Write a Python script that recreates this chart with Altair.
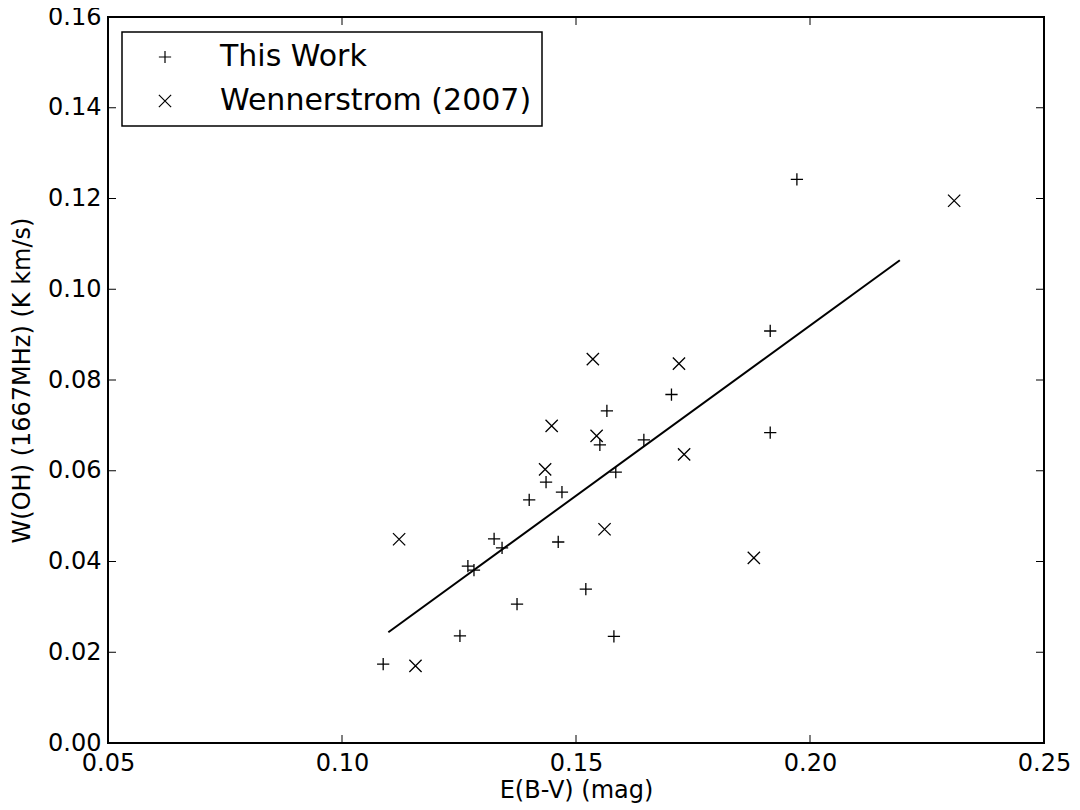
import altair as alt
import pandas as pd

# ---- data ----
this_x = [0.1088, 0.1252, 0.1269, 0.1282, 0.1325, 0.1342, 0.1374, 0.1400, 0.1436, 0.1470, 0.1462,
          0.1521, 0.1551, 0.1566, 0.1585, 0.1581, 0.1645, 0.1704, 0.1915, 0.1915, 0.1972]
this_y = [0.0174, 0.0236, 0.0390, 0.0381, 0.0450, 0.0430, 0.0306, 0.0536, 0.0575, 0.0553, 0.0443,
          0.0339, 0.0657, 0.0732, 0.0597, 0.0235, 0.0668, 0.0768, 0.0908, 0.0684, 0.1242]
wenn_x = [0.1157, 0.1122, 0.1448, 0.1434, 0.1536, 0.1544, 0.1561, 0.1720, 0.1731, 0.1880, 0.2308]
wenn_y = [0.0170, 0.0449, 0.0699, 0.0603, 0.0846, 0.0677, 0.0471, 0.0836, 0.0636, 0.0408, 0.1195]
fit_x = [0.1099, 0.2192]
fit_y = [0.0244, 0.1064]
series_names = ["This Work", "Wennerstrom (2007)"]
x_ticks = [0.05, 0.10, 0.15, 0.20, 0.25]
y_ticks = [0.00, 0.02, 0.04, 0.06, 0.08, 0.10, 0.12, 0.14, 0.16]

PLUS = "M-1,0L1,0M0,-1L0,1"
CROSS = "M-1,-1L1,1M-1,1L1,-1"
FONT = "DejaVu Sans"
W, H = 936, 726

pts = pd.DataFrame({
    "x": this_x + wenn_x,
    "y": this_y + wenn_y,
    "series": [series_names[0]] * len(this_x) + [series_names[1]] * len(wenn_x),
})
fit = pd.DataFrame({"x": fit_x, "y": fit_y})
xt = pd.DataFrame({"v": x_ticks})
yt = pd.DataFrame({"v": y_ticks})

xscale = alt.Scale(domain=[0.05, 0.25], nice=False, zero=False)
yscale = alt.Scale(domain=[0.0, 0.16], nice=False, zero=False)

xaxis = alt.Axis(values=x_ticks, format=".2f", title="E(B-V) (mag)", grid=False, ticks=False,
                 tickSize=0, domain=False, labelFlush=False, labelOverlap=False, labelPadding=8,
                 titlePadding=3)
yaxis = alt.Axis(values=y_ticks, format=".2f", title="W(OH) (1667MHz) (K km/s)", grid=False,
                 ticks=False, tickSize=0, domain=False, labelFlush=False, labelOverlap=False,
                 labelPadding=7, titlePadding=13)

points = alt.Chart(pts).mark_point(filled=False, color="black", strokeWidth=1.3, size=150,
                                   opacity=1).encode(
    x=alt.X("x:Q", scale=xscale, axis=xaxis),
    y=alt.Y("y:Q", scale=yscale, axis=yaxis),
    shape=alt.Shape("series:N",
                    scale=alt.Scale(domain=series_names, range=[PLUS, CROSS]),
                    legend=alt.Legend(title=None, orient="none", legendX=14, legendY=15,
                                      padding=10, symbolOffset=18, labelOffset=40,
                                      rowPadding=14, symbolSize=150,
                                      symbolStrokeColor="black", symbolStrokeWidth=1.2,
                                      symbolFillColor="transparent", symbolOpacity=1,
                                      labelFontSize=30, labelFont=FONT, labelColor="black",
                                      labelLimit=0,
                                      strokeColor="black", fillColor="white")),
)

line = alt.Chart(fit).mark_line(color="black", strokeWidth=2).encode(
    x=alt.X("x:Q", scale=xscale),
    y=alt.Y("y:Q", scale=yscale),
)

tick_len = 8
bottom_ticks = alt.Chart(xt).mark_rule(color="black", strokeWidth=1).encode(
    x=alt.X("v:Q", scale=xscale), y=alt.value(H), y2=alt.value(H - tick_len))
top_ticks = alt.Chart(xt).mark_rule(color="black", strokeWidth=1).encode(
    x=alt.X("v:Q", scale=xscale), y=alt.value(0), y2=alt.value(tick_len))
left_ticks = alt.Chart(yt).mark_rule(color="black", strokeWidth=1).encode(
    y=alt.Y("v:Q", scale=yscale), x=alt.value(0), x2=alt.value(tick_len))
right_ticks = alt.Chart(yt).mark_rule(color="black", strokeWidth=1).encode(
    y=alt.Y("v:Q", scale=yscale), x=alt.value(W), x2=alt.value(W - tick_len))

chart = alt.layer(bottom_ticks, top_ticks, left_ticks, right_ticks, line, points).properties(
    width=W, height=H,
    autosize=alt.AutoSizeParams(type="none"),
    padding={"left": 100, "top": 9, "right": 28, "bottom": 66},
).configure_view(
    stroke="black", strokeWidth=2
).configure_axis(
    labelFont=FONT, labelFontSize=24, labelColor="black",
    titleFont=FONT, titleFontSize=24, titleFontWeight="normal", titleColor="black",
).configure_legend(
    strokeWidth=1.5
)

chart.save("out.html", embed_options={"renderer": "svg", "actions": False})
